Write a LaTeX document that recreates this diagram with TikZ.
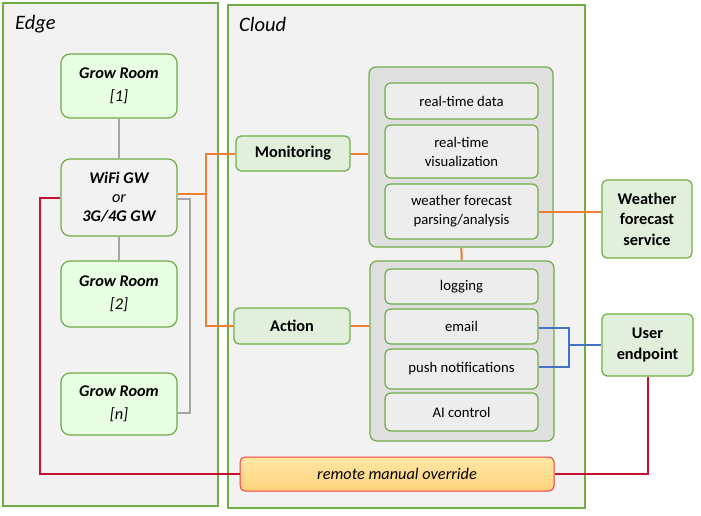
\documentclass[tikz,border=0pt]{standalone}
\usepackage{fontspec}
\setmainfont{Carlito}
\usepackage{tikz}
\usetikzlibrary{positioning}
\definecolor{grn}{HTML}{70AD47}
\definecolor{panelgray}{HTML}{F2F2F2}
\definecolor{growfill}{HTML}{E8FFE4}
\definecolor{funcfill}{HTML}{E2EFDA}
\definecolor{grpfill}{HTML}{DFDFDF}
\definecolor{itemfill}{HTML}{EDEDED}
\definecolor{orangeln}{HTML}{ED7D31}
\definecolor{grayln}{HTML}{A5A5A5}
\definecolor{blueln}{HTML}{4472C4}
\definecolor{redln}{HTML}{C8102E}
\definecolor{ovrtop}{HTML}{FFE7A6}
\definecolor{ovrbot}{HTML}{FFD27A}
\definecolor{ovrdraw}{HTML}{F23A3A}
\tikzset{
  box/.style = {rectangle, align=center, inner sep=0pt, text centered},
  panel/.style = {box, draw=grn, fill=panelgray, line width=1.4pt},% edge / cloud
  growroom/.style = {box, draw=grn, fill=growfill, line width=1.2pt, rounded corners=9pt,
    minimum width=116pt, minimum height=64pt,
    font=\fontsize{16.3}{23}\selectfont\bfseries\itshape},% grow room
  gw/.style = {box, draw=grn, fill=panelgray, line width=1.2pt, rounded corners=9pt,
    minimum width=116pt, minimum height=77pt,
    font=\fontsize{16.3}{19}\selectfont\bfseries\itshape},
  func/.style = {box, draw=grn, fill=funcfill, line width=1.2pt, rounded corners=5pt,
    font=\fontsize{16.3}{20}\selectfont\bfseries},% monitoring / action
  ext/.style = {func, font=\fontsize{16.3}{20.5}\selectfont\bfseries},% outside services
  grp/.style = {box, draw=grn, fill=grpfill, line width=1.2pt, rounded corners=7pt,
    minimum width=184pt, minimum height=180pt},
  item/.style = {box, draw=grn, fill=itemfill, line width=1.2pt, rounded corners=6pt,
    minimum width=153pt, font=\fontsize{14.7}{19}\selectfont},
  ovr/.style = {box, draw=ovrdraw, line width=1pt, rounded corners=5pt,
    top color=ovrtop, bottom color=ovrbot,
    minimum width=314pt, minimum height=34pt,
    font=\fontsize{16.3}{18}\selectfont\itshape},
  title/.style = {anchor=west, inner sep=0pt, font=\fontsize{20.5}{24}\selectfont\itshape},
  link/.style = {line width=2pt},
}
\begin{document}
\begin{tikzpicture}[x=1pt,y=-1pt]
  \useasboundingbox (0,0) rectangle (701,516);

  % panels
  \node[panel, minimum width=215pt, minimum height=503pt] (edge) at (110.5,254.5) {};
  \node[panel, minimum width=357pt, minimum height=503pt] (cloud) at (406.5,256.5) {};
  \node[title] (edgelbl) at (15,24) {Edge};
  \node[title] (cloudlbl) at (239,24) {Cloud};

  % edge side
  \node[growroom] (gr1) at (119,86) {Grow Room\\{\mdseries[1]}};
  \node[gw] (gw) at (119,197.5) {WiFi GW\\{\mdseries or}\\3G/4G GW};
  \node[growroom, minimum height=66pt] (gr2) at (119,294) {Grow Room\\{\mdseries[2]}};
  \node[growroom, minimum height=62pt] (grn) at (119,404) {Grow Room\\{\mdseries[n]}};

  % cloud side
  \node[func, minimum width=114pt, minimum height=35pt] (mon) at (293,153.5) {Monitoring};
  \node[func, minimum width=116pt, minimum height=36pt] (act) at (292,326) {Action};

  \node[grp] (mgrp) at (461,157) {};
  \node[item, minimum height=36pt] (rtd) at (461.5,101) {real-time data};
  \node[item, minimum height=53pt] (rtv) at (461.5,151.5) {real-time\\visualization};
  \node[item, minimum height=55pt] (wfa) at (461.5,211.5) {weather forecast\\parsing/analysis};

  \node[grp] (agrp) at (462,351) {};
  \node[item, minimum height=35pt] (logg) at (461.5,286.5) {logging};
  \node[item, minimum height=35pt] (email) at (461.5,326.5) {email};
  \node[item, minimum height=40pt] (push) at (461.5,369) {push notifications};
  \node[item, minimum height=38pt] (aic) at (461.5,412) {AI control};

  \node[ext, minimum width=90pt, minimum height=78pt] (wx) at (647,219) {Weather\\forecast\\service};
  \node[ext, minimum width=91pt, minimum height=62pt] (user) at (647.5,345) {User\\endpoint};

  \node[ovr] (ovr) at (397,474) {remote manual override};

  % gateway links
  \draw[link, grayln] (gr1) -- (gw);
  \draw[link, grayln] (gw) -- (gr2);
  \draw[link, grayln] ([yshift=-1.5pt]gw.east) -| ([xshift=12pt,yshift=-9pt]grn.east) -- ([yshift=-9pt]grn.east);

  % to the cloud
  \coordinate (obus) at (206,194);
  \draw[link, orangeln] ([yshift=3.5pt]gw.east) -- (obus) |- (mon.west);
  \draw[link, orangeln] (obus) |- (act.west);
  \draw[link, orangeln] (mon.east) -- (mon.east -| mgrp.west);
  \draw[link, orangeln] (act.east) -- (act.east -| agrp.west);
  \draw[link, orangeln] (mgrp) -- (agrp);
  \draw[link, orangeln] (wfa.east) -- (wfa.east -| wx.west);

  % user
  \coordinate (ubus) at (569,345);
  \draw[link, blueln] ([yshift=-1.5pt]email.east) -| (ubus) |- ([yshift=2pt]push.east);
  \draw[link, blueln] (ubus) -- (user.west);

  % override
  \coordinate (rbus) at (40,474);
  \draw[link, redln] (gw.west) -| (rbus) -- (ovr.west);
  \draw[link, redln] (user.south) |- (ovr.east);
\end{tikzpicture}
\end{document}
